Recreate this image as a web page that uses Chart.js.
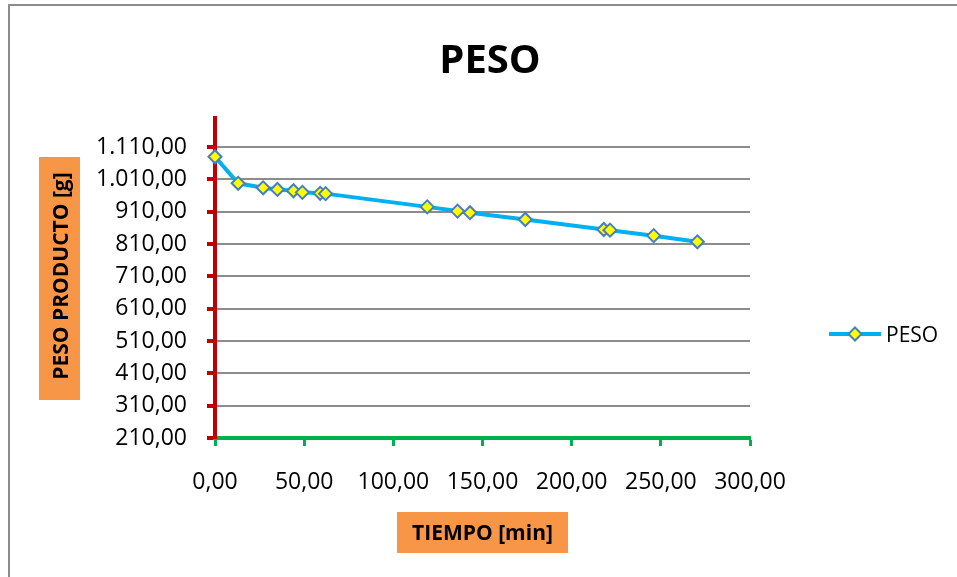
<!DOCTYPE html>
<html>
<head>
<meta charset="utf-8">
<title>PESO</title>
<script src="https://cdn.jsdelivr.net/npm/chart.js@4.4.1/dist/chart.umd.min.js"></script>
<style>
  html, body { margin: 0; padding: 0; background: #ffffff; }
  canvas { display: block; }
</style>
</head>
<body>
<canvas id="myChart" width="957" height="577"></canvas>
<script>

// tiempo en minutos y peso del producto en gramos
const tiempo = [0, 13, 27, 35, 44, 49, 59, 62, 119, 136, 143, 174, 218, 221.5, 246, 270.5];
const peso = [1080, 998, 984, 979, 975, 970, 967, 966, 925, 912, 907, 886, 855, 853, 836, 817];

const yTicks = [210, 310, 410, 510, 610, 710, 810, 910, 1010, 1110];

const titulo = 'PESO';
const serie = 'PESO';
const tituloX = 'TIEMPO [min]';
const tituloY = 'PESO PRODUCTO [g]';

const FONT = "'Open Sans', sans-serif";

// 1.110,00 style numbers
const fmt = (v) => {
  const parts = Number(v).toFixed(2).split('.');
  parts[0] = parts[0].replace(/\B(?=(\d{3})+(?!\d))/g, '.');
  return parts.join(',');
}//endFmt

const drawDiamond = (ctx, x, y, r) => {
  ctx.beginPath();
  ctx.moveTo(x, y - r);
  ctx.lineTo(x + r, y);
  ctx.lineTo(x, y + r);
  ctx.lineTo(x - r, y);
  ctx.closePath();
  ctx.fillStyle = '#ffff00';
  ctx.fill();
  ctx.lineWidth = 2;
  ctx.strokeStyle = '#4a7ebb';
  ctx.stroke();
}

// frame, title, axis titles on orange boxes and the legend
const extras = {
  id: 'extras',
  beforeDraw(chart) {
    const ctx = chart.ctx;
    ctx.save();
    ctx.fillStyle = '#ffffff';
    ctx.fillRect(0, 0, chart.width, chart.height);
    ctx.strokeStyle = '#8c8c8c';
    ctx.lineWidth = 2;
    ctx.beginPath();
    ctx.moveTo(9, chart.height);
    ctx.lineTo(9, 5);
    ctx.lineTo(chart.width, 5);
    ctx.stroke();
    ctx.restore();
  },
  afterDraw(chart) {
    const ctx = chart.ctx;
    ctx.save();

    ctx.fillStyle = '#000000';
    ctx.font = 'bold 40px ' + FONT;
    ctx.textAlign = 'center';
    ctx.textBaseline = 'alphabetic';
    ctx.fillText(titulo, 490, 73);

    // x axis title
    ctx.fillStyle = '#f79646';
    ctx.fillRect(397, 512, 171, 41);
    ctx.fillStyle = '#000000';
    ctx.font = 'bold 21px ' + FONT;
    ctx.fillText(tituloX, 482.5, 540);

    // y axis title
    ctx.fillStyle = '#f79646';
    ctx.fillRect(39, 157, 41, 243);
    ctx.fillStyle = '#000000';
    ctx.translate(68, 276);
    ctx.rotate(-Math.PI / 2);
    ctx.fillText(tituloY, 0, 0);
    ctx.setTransform(1, 0, 0, 1, 0, 0);

    // legend
    ctx.strokeStyle = '#00b0f0';
    ctx.lineWidth = 4;
    ctx.beginPath();
    ctx.moveTo(829, 334);
    ctx.lineTo(881, 334);
    ctx.stroke();
    drawDiamond(ctx, 855, 334, 6.5);
    ctx.fillStyle = '#000000';
    ctx.font = '21px ' + FONT;
    ctx.textAlign = 'left';
    ctx.fillText(serie, 886, 342);

    ctx.restore();
  }
}//endExtras

const points = tiempo.map((t, i) => ({ x: t, y: peso[i] }));

const datas = {
  datasets: [{
    label: serie,
    data: points,
    showLine: true,
    borderColor: '#00b0f0',
    borderWidth: 4,
    tension: 0,
    pointStyle: 'rectRot',
    pointRadius: 6.5,
    pointHoverRadius: 6.5,
    pointBackgroundColor: '#ffff00',
    pointBorderColor: '#4a7ebb',
    pointBorderWidth: 2,
    clip: false
  }]
};

const config = {
  type: 'scatter',
  data: datas,
  options: {
    responsive: false,
    animation: false,
    layout: { padding: { left: 5, top: 118, right: 207, bottom: 0 } },
    plugins: {
      legend: { display: false },
      title: { display: false },
      tooltip: { enabled: false }
    },
    scales: {
      x: {
        type: 'linear',
        min: 0,
        max: 300,
        afterFit: (scale) => { scale.height = 139; },
        ticks: {
          stepSize: 50,
          padding: 23,
          color: '#000000',
          font: { family: FONT, size: 23 },
          callback: (v) => fmt(v)
        },
        grid: {
          drawOnChartArea: false,
          drawTicks: true,
          tickLength: 8,
          tickColor: '#00b050',
          tickWidth: 3
        },
        border: { color: '#00b050', width: 4 }
      },
      y: {
        type: 'linear',
        min: 210,
        max: 1200,
        afterFit: (scale) => { scale.width = 210; },
        afterBuildTicks: (scale) => {
          scale.ticks = yTicks.map((v) => ({ value: v }));
        },
        ticks: {
          padding: 20,
          color: '#000000',
          font: { family: FONT, size: 23 },
          callback: (v) => fmt(v)
        },
        grid: {
          color: (c) => (c.tick && c.tick.value === 210 ? 'rgba(0,0,0,0)' : '#8c8c8c'),
          lineWidth: 2,
          tickLength: 8,
          tickColor: '#c00000',
          tickWidth: 4
        },
        border: { color: '#c00000', width: 4 }
      }
    }
  },
  plugins: [extras]
};

const ctx = document.getElementById('myChart');

new Chart(ctx, config);

</script>
</body>
</html>
